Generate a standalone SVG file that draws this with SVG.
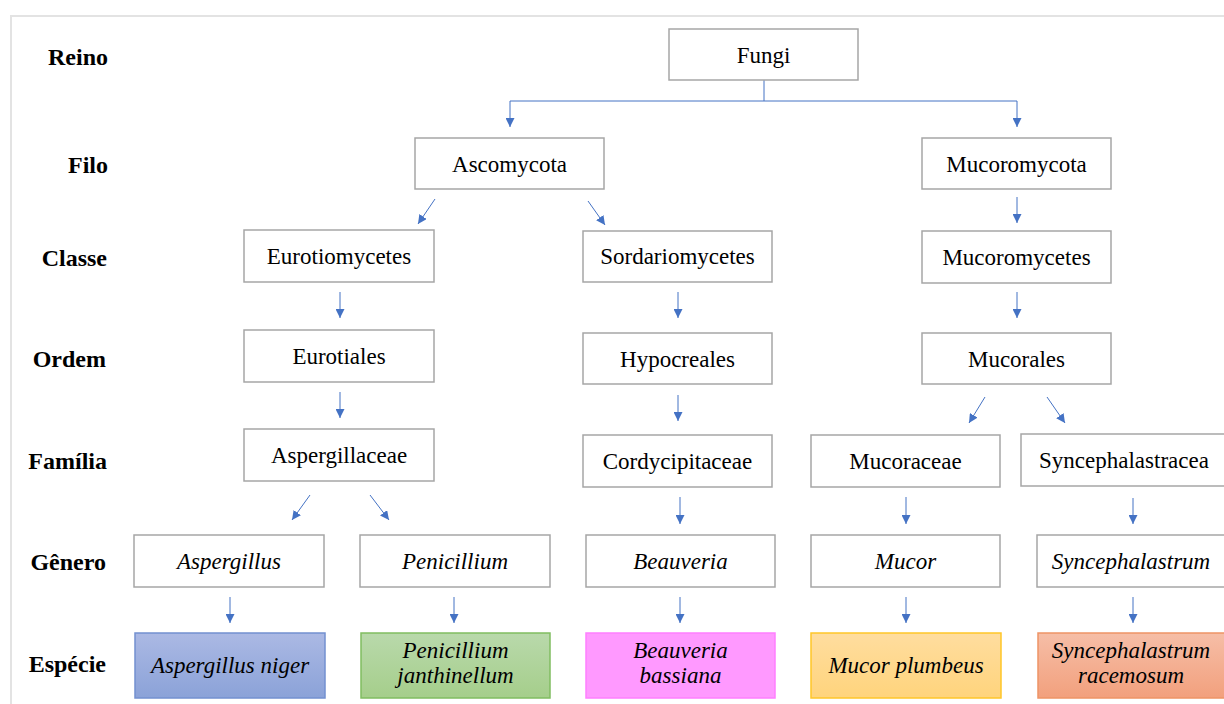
<svg xmlns="http://www.w3.org/2000/svg" width="1224" height="704" viewBox="0 0 1224 704">
  <style>
    .frame { fill: #ffffff; stroke: #e3e3e3; stroke-width: 2; }
    .box { fill: #ffffff; stroke: #a6a6a6; stroke-width: 1.5; }
    text { font-family: 'Liberation Serif', Tinos, 'Times New Roman', Times, 'DejaVu Serif', serif; }
    .t { font-size: 23px; fill: #000000; text-anchor: middle; }
    .i { font-style: italic; }
    .rank { font-size: 24px; font-weight: bold; fill: #000000; text-anchor: end; }
    .conn { fill: none; stroke: #4472c4; stroke-width: 1; }
  </style>
  <defs>
    <marker id="arrow" viewBox="0 0 10 10" refX="10" refY="5" markerWidth="9" markerHeight="9" markerUnits="userSpaceOnUse" orient="auto">
      <path d="M0,0 L10,5 L0,10 Z" fill="#4472c4"/>
    </marker>
    <linearGradient id="gBlue" x1="0" y1="0" x2="0" y2="1">
      <stop offset="0" stop-color="#abb9e4"/>
      <stop offset="1" stop-color="#8ba2d8"/>
    </linearGradient>
    <linearGradient id="gGreen" x1="0" y1="0" x2="0" y2="1">
      <stop offset="0" stop-color="#b9d9ab"/>
      <stop offset="1" stop-color="#a5ce8b"/>
    </linearGradient>
    <linearGradient id="gYellow" x1="0" y1="0" x2="0" y2="1">
      <stop offset="0" stop-color="#ffdd9f"/>
      <stop offset="1" stop-color="#ffd47c"/>
    </linearGradient>
    <linearGradient id="gSalmon" x1="0" y1="0" x2="0" y2="1">
      <stop offset="0" stop-color="#f6bea7"/>
      <stop offset="1" stop-color="#f2a07d"/>
    </linearGradient>
  </defs>

  <rect width="1224" height="704" fill="#ffffff"/>
  <rect class="frame" x="11" y="16" width="1230" height="710"/>

  <g font-family="'Liberation Serif', 'Times New Roman', serif">
  <!-- taxonomic rank labels -->
  <g id="ranks">
    <text class="rank" x="108" y="65">Reino</text>
    <text class="rank" x="108" y="173">Filo</text>
    <text class="rank" x="107" y="266">Classe</text>
    <text class="rank" x="106" y="367">Ordem</text>
    <text class="rank" x="107" y="469">Família</text>
    <text class="rank" x="106" y="570">Gênero</text>
    <text class="rank" x="106" y="672">Espécie</text>
  </g>

  <!-- connectors -->
  <g id="connectors">
    <path class="conn" d="M764,80 V101"/>
    <path class="conn" d="M510,101 H1017"/>
    <path class="conn" d="M510,101 V127" marker-end="url(#arrow)"/>
    <path class="conn" d="M1017,101 V127" marker-end="url(#arrow)"/>

    <path class="conn" d="M435,199 L418,224" marker-end="url(#arrow)"/>
    <path class="conn" d="M588,201 L605,225" marker-end="url(#arrow)"/>
    <path class="conn" d="M1017,197 V223" marker-end="url(#arrow)"/>

    <path class="conn" d="M340,292 V318" marker-end="url(#arrow)"/>
    <path class="conn" d="M678,292 V318" marker-end="url(#arrow)"/>
    <path class="conn" d="M1017,292 V318" marker-end="url(#arrow)"/>

    <path class="conn" d="M340,392 V418" marker-end="url(#arrow)"/>
    <path class="conn" d="M678,395 V421" marker-end="url(#arrow)"/>
    <path class="conn" d="M985,397 L969,423" marker-end="url(#arrow)"/>
    <path class="conn" d="M1047,397 L1065,423" marker-end="url(#arrow)"/>

    <path class="conn" d="M310,495 L292,520" marker-end="url(#arrow)"/>
    <path class="conn" d="M370,495 L389,520" marker-end="url(#arrow)"/>
    <path class="conn" d="M680,497 V524" marker-end="url(#arrow)"/>
    <path class="conn" d="M906,497 V524" marker-end="url(#arrow)"/>
    <path class="conn" d="M1133,498 V524" marker-end="url(#arrow)"/>

    <path class="conn" d="M230,597 V623" marker-end="url(#arrow)"/>
    <path class="conn" d="M454,597 V623" marker-end="url(#arrow)"/>
    <path class="conn" d="M680,597 V623" marker-end="url(#arrow)"/>
    <path class="conn" d="M906,597 V623" marker-end="url(#arrow)"/>
    <path class="conn" d="M1133,597 V623" marker-end="url(#arrow)"/>
  </g>

  <!-- kingdom -->
  <g id="fungi">
    <rect class="box" x="669" y="29" width="189" height="51"/>
    <text class="t" x="763.5" y="63">Fungi</text>
  </g>

  <!-- phyla -->
  <g id="ascomycota">
    <rect class="box" x="415" y="138" width="189" height="51"/>
    <text class="t" x="509.5" y="172">Ascomycota</text>
  </g>
  <g id="mucoromycota">
    <rect class="box" x="922" y="138" width="189" height="51"/>
    <text class="t" x="1016.5" y="172">Mucoromycota</text>
  </g>

  <!-- classes -->
  <g id="eurotiomycetes">
    <rect class="box" x="244" y="230" width="190" height="52"/>
    <text class="t" x="339" y="264">Eurotiomycetes</text>
  </g>
  <g id="sordariomycetes">
    <rect class="box" x="583" y="231" width="189" height="51"/>
    <text class="t" x="677.5" y="264">Sordariomycetes</text>
  </g>
  <g id="mucoromycetes">
    <rect class="box" x="922" y="231" width="189" height="52"/>
    <text class="t" x="1016.5" y="265">Mucoromycetes</text>
  </g>

  <!-- orders -->
  <g id="eurotiales">
    <rect class="box" x="244" y="330" width="190" height="52"/>
    <text class="t" x="339" y="364">Eurotiales</text>
  </g>
  <g id="hypocreales">
    <rect class="box" x="583" y="333" width="189" height="51"/>
    <text class="t" x="677.5" y="367">Hypocreales</text>
  </g>
  <g id="mucorales">
    <rect class="box" x="922" y="333" width="189" height="51"/>
    <text class="t" x="1016.5" y="367">Mucorales</text>
  </g>

  <!-- families -->
  <g id="aspergillaceae">
    <rect class="box" x="244" y="429" width="190" height="52"/>
    <text class="t" x="339" y="463">Aspergillaceae</text>
  </g>
  <g id="cordycipitaceae">
    <rect class="box" x="583" y="435" width="189" height="52"/>
    <text class="t" x="677.5" y="469">Cordycipitaceae</text>
  </g>
  <g id="mucoraceae">
    <rect class="box" x="811" y="435" width="189" height="52"/>
    <text class="t" x="905.5" y="469">Mucoraceae</text>
  </g>
  <g id="syncephalastracea">
    <rect class="box" x="1021" y="434" width="210" height="52"/>
    <text class="t" x="1124" y="468">Syncephalastracea</text>
  </g>

  <!-- genera -->
  <g id="aspergillus">
    <rect class="box" x="134" y="535" width="190" height="52"/>
    <text class="t i" x="229" y="569">Aspergillus</text>
  </g>
  <g id="penicillium">
    <rect class="box" x="360" y="535" width="190" height="52"/>
    <text class="t i" x="455" y="569">Penicillium</text>
  </g>
  <g id="beauveria">
    <rect class="box" x="586" y="535" width="189" height="52"/>
    <text class="t i" x="680.5" y="569">Beauveria</text>
  </g>
  <g id="mucor">
    <rect class="box" x="811" y="535" width="189" height="52"/>
    <text class="t i" x="905.5" y="569">Mucor</text>
  </g>
  <g id="syncephalastrum">
    <rect class="box" x="1037" y="535" width="200" height="52"/>
    <text class="t i" x="1131" y="569">Syncephalastrum</text>
  </g>

  <!-- species -->
  <g id="aspergillus-niger">
    <rect x="135" y="633" width="190" height="65" fill="url(#gBlue)" stroke="#7390d0" stroke-width="1.5"/>
    <text class="t i" x="230" y="673">Aspergillus niger</text>
  </g>
  <g id="penicillium-janthinellum">
    <rect x="361" y="633" width="189" height="65" fill="url(#gGreen)" stroke="#80bd60" stroke-width="1.5"/>
    <text class="t i" x="455.5" y="658">Penicillium</text>
    <text class="t i" x="455.5" y="683">janthinellum</text>
  </g>
  <g id="beauveria-bassiana">
    <rect x="586" y="633" width="189" height="65" fill="#ff99ff" stroke="#ff7fff" stroke-width="1.5"/>
    <text class="t i" x="680.5" y="658">Beauveria</text>
    <text class="t i" x="680.5" y="683">bassiana</text>
  </g>
  <g id="mucor-plumbeus">
    <rect x="811" y="633" width="190" height="65" fill="url(#gYellow)" stroke="#ffc629" stroke-width="1.5"/>
    <text class="t i" x="906" y="673">Mucor plumbeus</text>
  </g>
  <g id="syncephalastrum-racemosum">
    <rect x="1038" y="633" width="200" height="65" fill="url(#gSalmon)" stroke="#ee9466" stroke-width="1.5"/>
    <text class="t i" x="1131" y="658">Syncephalastrum</text>
    <text class="t i" x="1131" y="683">racemosum</text>
  </g>
  </g>
</svg>
